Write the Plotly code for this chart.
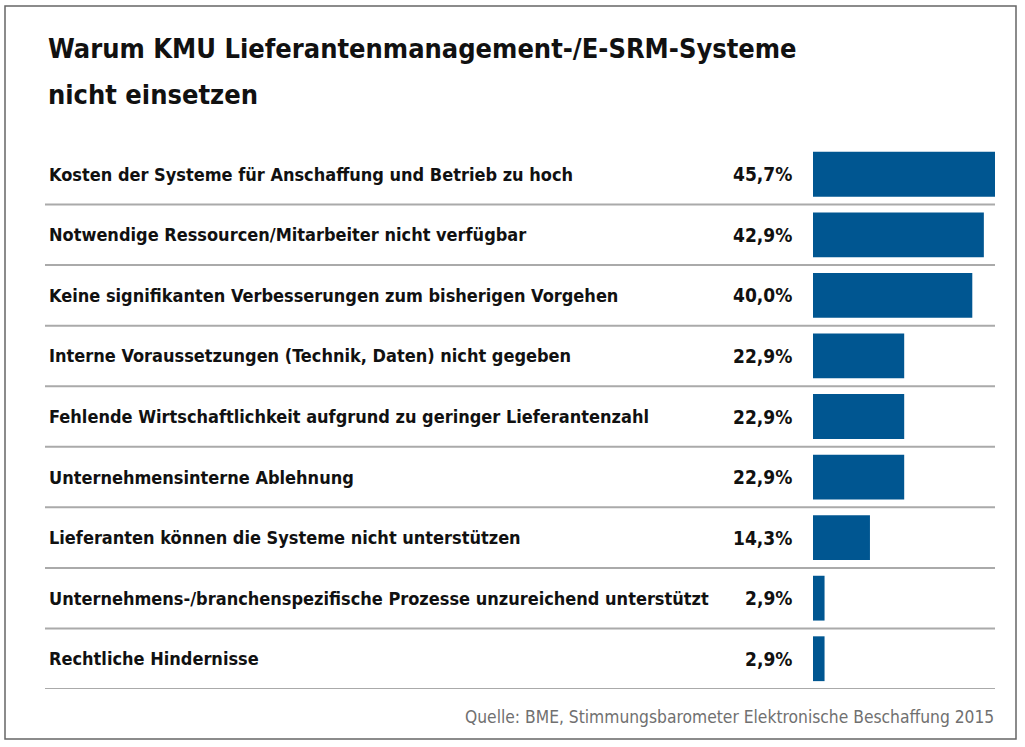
import plotly.graph_objects as go

# Gruende, warum KMU keine Lieferantenmanagement-/E-SRM-Systeme einsetzen
gruende = [
    "Kosten der Systeme für Anschaffung und Betrieb zu hoch",
    "Notwendige Ressourcen/Mitarbeiter nicht verfügbar",
    "Keine signifikanten Verbesserungen zum bisherigen Vorgehen",
    "Interne Voraussetzungen (Technik, Daten) nicht gegeben",
    "Fehlende Wirtschaftlichkeit aufgrund zu geringer Lieferantenzahl",
    "Unternehmensinterne Ablehnung",
    "Lieferanten können die Systeme nicht unterstützen",
    "Unternehmens-/branchenspezifische Prozesse unzureichend unterstützt",
    "Rechtliche Hindernisse",
]
anteile = [45.7, 42.9, 40.0, 22.9, 22.9, 22.9, 14.3, 2.9, 2.9]

titel = ["Warum KMU Lieferantenmanagement-/E-SRM-Systeme", "nicht einsetzen"]
quelle = "Quelle: BME, Stimmungsbarometer Elektronische Beschaffung 2015"

W, H = 1025, 747
FONT = "DejaVu Sans Condensed, Liberation Sans Narrow, sans-serif"
BLAU = "#005691"


def px_x(p):
    return p / W


def px_y(p):
    # Pixel von oben -> paper-Koordinate
    return 1 - p / H


fig = go.Figure(go.Bar(
    x=anteile,
    y=list(range(len(gruende))),
    orientation="h",
    marker=dict(color=BLAU, line=dict(width=0)),
    width=0.74,
    hoverinfo="skip",
))

annos = []
shapes = []
for i, (g, a) in enumerate(zip(gruende, anteile)):
    annos.append(dict(x=px_x(47), y=i, xref="paper", yref="y", text=f"<b>{g}</b>",
                      showarrow=False, xanchor="left", yanchor="middle",
                      font=dict(family=FONT, size=18, color="#111111")))
    annos.append(dict(x=px_x(794), y=i, xref="paper", yref="y",
                      text="<b>" + f"{a:.1f}%".replace(".", ",") + "</b>",
                      showarrow=False, xanchor="right", yanchor="middle",
                      font=dict(family=FONT, size=19, color="#111111")))
    shapes.append(dict(type="line", xref="paper", yref="y",
                       x0=px_x(45), x1=px_x(995), y0=i + 0.5, y1=i + 0.5,
                       line=dict(color="#aaaaaa", width=2)))

# Titel, zwei Zeilen
for zeile, ypos in zip(titel, [48, 94]):
    annos.append(dict(x=px_x(46), y=px_y(ypos), xref="paper", yref="paper",
                      text=f"<b>{zeile}</b>",
                      showarrow=False, xanchor="left", yanchor="middle",
                      font=dict(family=FONT, size=27, color="#111111")))
# Quelle
annos.append(dict(x=px_x(996), y=px_y(717), xref="paper", yref="paper",
                  text=quelle,
                  showarrow=False, xanchor="right", yanchor="middle",
                  font=dict(family=FONT, size=17.3, color="#707070")))

# Rahmen
shapes.append(dict(type="rect", xref="paper", yref="paper",
                   x0=px_x(5), x1=px_x(1016), y0=px_y(739), y1=px_y(6),
                   line=dict(color="#666666", width=1.5)))

fig.update_layout(
    width=W, height=H,
    margin=dict(l=0, r=0, t=0, b=0),
    paper_bgcolor="white", plot_bgcolor="white",
    showlegend=False,
    xaxis=dict(domain=[px_x(813), px_x(995)], range=[0, 45.7],
               visible=False, fixedrange=True),
    yaxis=dict(domain=[px_y(689), px_y(144)], range=[8.5, -0.5],
               visible=False, fixedrange=True),
    annotations=annos,
    shapes=shapes,
)

fig.write_html("out.html", config={"displayModeBar": False},
               post_script="document.body.style.margin='0';")
